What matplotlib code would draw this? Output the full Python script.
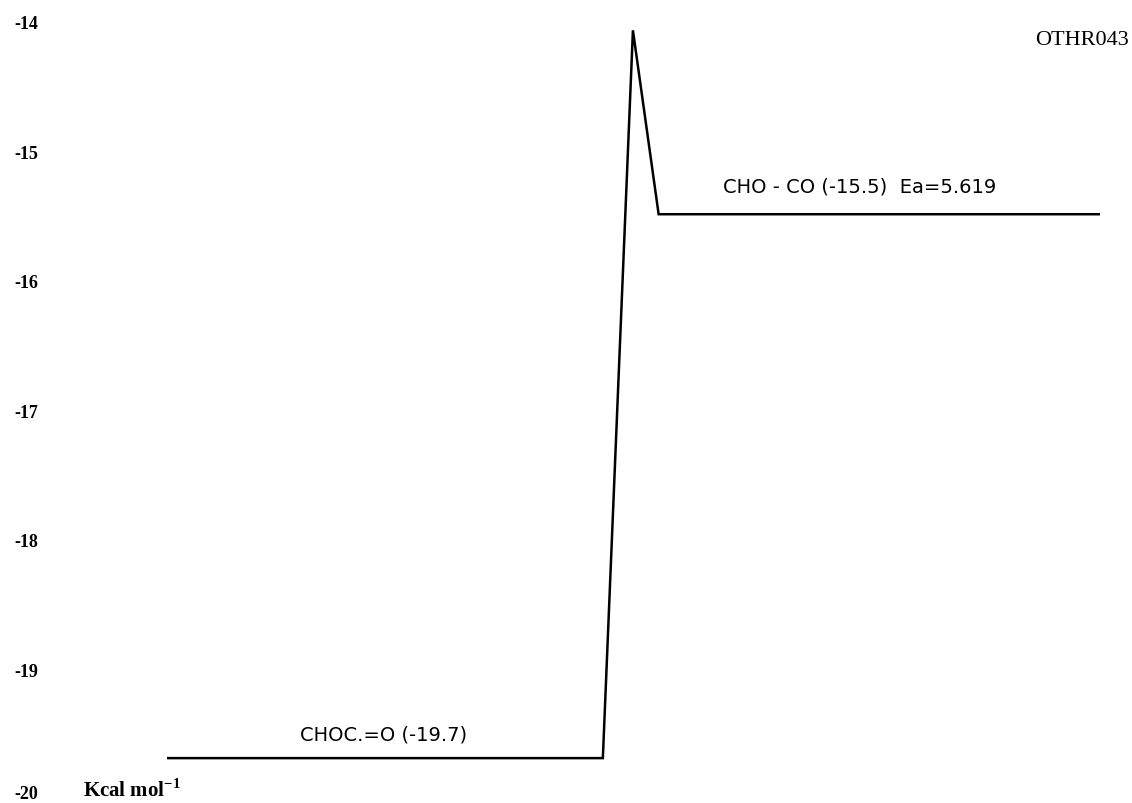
import numpy as np
import matplotlib
matplotlib.use('Agg')
import matplotlib.pyplot as plt
from matplotlib.transforms import blended_transform_factory

plt.rcParams['mathtext.fontset'] = 'custom'
plt.rcParams['mathtext.rm'] = 'Liberation Serif'
plt.rcParams['mathtext.bf'] = 'Liberation Serif:bold'

# reaction coordinate (arbitrary units) and energy in kcal/mol
reaction_coord = [0.0, 10.0, 10.69, 11.28, 21.4]
energy = [-19.7, -19.7, -14.08, -15.5, -15.5]

energy_ticks = [-14, -15, -16, -17, -18, -19, -20]

reactant_label = 'CHOC.=O (-19.7)'
product_label = 'CHO - CO (-15.5)  Ea=5.619'
reaction_id = 'OTHR043'

fig = plt.figure(figsize=(11.32, 8.04), dpi=100)
ax = fig.add_axes([0.1475, 0.0075, 0.824, 0.9664])

ax.plot(reaction_coord, energy, color='black', lw=1.8, solid_joinstyle='miter')

ax.set_xlim(0, 21.4)
ax.set_ylim(-20, -14)
ax.set_xticks([])
ax.set_yticks([])
for s in ax.spines.values():
    s.set_visible(False)

# tick labels drawn by hand, placed far left of the plot like the original
lab_tf = blended_transform_factory(fig.transFigure, ax.transData)
for t in energy_ticks:
    ax.text(0.013, max(t - 0.03, -19.97), str(t), transform=lab_tf,
            fontfamily='Liberation Serif', fontweight='bold', fontsize=13,
            ha='left', va='center', clip_on=False)

ax.text(4.98, -19.51, reactant_label, fontfamily='DejaVu Sans', fontsize=14,
        ha='center', va='center')
ax.text(12.75, -15.28, product_label, fontfamily='DejaVu Sans', fontsize=14,
        ha='left', va='center')
fig.text(0.997, 0.950, reaction_id, fontfamily='Liberation Serif', fontsize=16,
         ha='right', va='center')
fig.text(0.073, 0.017, r'Kcal mol$^{\mathbf{-1}}$', fontfamily='Liberation Serif',
         fontweight='bold', fontsize=15, ha='left', va='center')

fig.savefig('out.png', dpi=100, facecolor='white')
